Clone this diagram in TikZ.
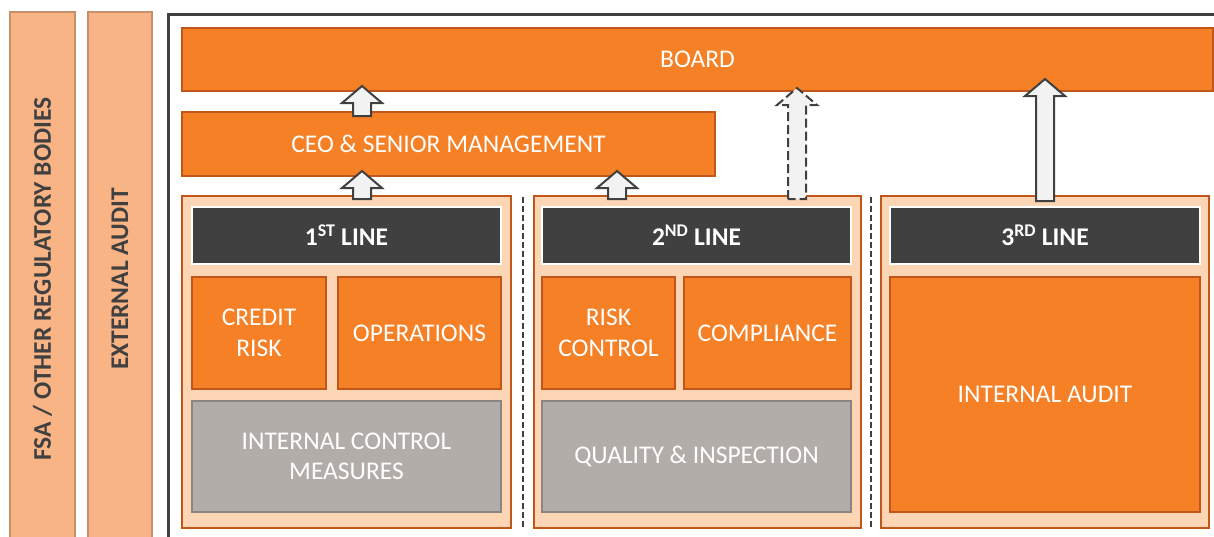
\documentclass[tikz,border=0pt]{standalone}
\usepackage{fontspec}
\setmainfont{Carlito}
\usepackage{tikz}
\usetikzlibrary{positioning,calc}
\definecolor{orangefill}{HTML}{F58025}
\definecolor{orangeline}{HTML}{C0561A}
\definecolor{peach}{HTML}{FCD5B4}
\definecolor{sidefill}{HTML}{F9B486}
\definecolor{sideline}{HTML}{C5906B}
\definecolor{darkbar}{HTML}{404040}
\definecolor{greyfill}{HTML}{B3ADA9}
\definecolor{greyline}{HTML}{8A8583}
\definecolor{arrowfill}{HTML}{F2F2F2}
\newcommand{\diagfont}{\fontsize{25.5}{30.5}\selectfont}
\tikzset{
obox/.style = {draw=orangeline, fill=orangefill, line width=2pt, rectangle, text=white, align=center, inner sep=0pt},
column/.style = {draw=orangeline, fill=peach, line width=2pt, rectangle, inner sep=0pt},
header/.style = {draw=white, fill=darkbar, line width=2pt, rectangle, text=white, font=\diagfont\bfseries, inner sep=0pt},
gbox/.style = {draw=greyline, fill=greyfill, line width=2pt, rectangle, text=white, align=center, inner sep=0pt},
sidebar/.style = {draw=sideline, fill=sidefill, line width=1.5pt, rectangle, rotate=90, text=darkbar, font=\diagfont\bfseries, inner sep=0pt},
frame/.style = {draw=darkbar, line width=3pt},
sepline/.style = {draw=darkbar, line width=2pt, dash pattern=on 6pt off 3pt},
blockarr/.style = {draw=darkbar, fill=arrowfill, line width=2pt, line join=miter}
}
\newcommand{\blockarrow}[3][]{%
  \draw[blockarr,#1] let \p1=#2, \p2=#3 in
    (\x1-9pt,\y1) -- (\x1-9pt,\y2-17pt) -- (\x1-20pt,\y2-17pt) -- (\x1,\y2)
    -- (\x1+20pt,\y2-17pt) -- (\x1+9pt,\y2-17pt) -- (\x1+9pt,\y1) -- cycle;}
\begin{document}
\begin{tikzpicture}[x=1pt, y=-1pt, font=\diagfont]
    \clip (0,0) rectangle (1214,536);
    \fill[white] (0,0) rectangle (1214,536);
    % regulators and auditors on the left
    \node [sidebar, minimum width=534pt, minimum height=65pt] (fsa) at (42.5,279) {FSA / OTHER REGULATORY BODIES};
    \node [sidebar, minimum width=534pt, minimum height=64pt] (ext) at (120,279) {EXTERNAL AUDIT};
    \draw [frame] (168.5,560) -- (168.5,14) -- (1240,14);

    % top of the organisation
    \node [obox, minimum width=1031pt, minimum height=63pt] (board) at (697.5,59.5) {BOARD};
    \node [obox, minimum width=533pt, minimum height=64pt] (ceo) at (448.5,144) {CEO \& SENIOR MANAGEMENT};

    % the three lines
    \node [column, minimum width=329pt, minimum height=332pt] (col1) at (346.5,362) {};
    \node [column, minimum width=327pt, minimum height=332pt] (col2) at (697.5,362) {};
    \node [column, minimum width=328pt, minimum height=332pt] (col3) at (1045,362) {};

    \node [header, minimum width=309pt, minimum height=57pt] (hd1) at (346.5,235.5) {1\textsuperscript{ST} LINE};
    \node [header, minimum width=309pt, minimum height=57pt] (hd2) at (696.5,235.5) {2\textsuperscript{ND} LINE};
    \node [header, minimum width=310pt, minimum height=57pt] (hd3) at (1045,235.5) {3\textsuperscript{RD} LINE};

    \node [obox, minimum width=134pt, minimum height=112pt] (credit) at (259,333) {CREDIT\\RISK};
    \node [obox, minimum width=163pt, minimum height=112pt] (ops) at (419.5,333) {OPERATIONS};
    \node [obox, minimum width=133pt, minimum height=112pt] (riskctl) at (608.5,333) {RISK\\CONTROL};
    \node [obox, minimum width=167pt, minimum height=112pt] (compl) at (767.5,333) {COMPLIANCE};
    \node [gbox, minimum width=309pt, minimum height=111pt] (icm) at (346.5,456.5) {INTERNAL CONTROL\\MEASURES};
    \node [gbox, minimum width=309pt, minimum height=111pt] (qual) at (696.5,456.5) {QUALITY \& INSPECTION};
    \node [obox, minimum width=310pt, minimum height=235pt] (ia) at (1045,394.5) {INTERNAL AUDIT};

    % dashed separators between the lines
    \draw [sepline] ($(col1.north east)!0.5!(col2.north west)+(0,2)$) -- ($(col1.south east)!0.5!(col2.south west)$);
    \draw [sepline] ($(col2.north east)!0.5!(col3.north west)+(0,2)$) -- ($(col2.south east)!0.5!(col3.south west)$);

    % reporting arrows
    \coordinate (a1) at (362,0);
    \coordinate (a2) at (617,0);
    \coordinate (a3) at (797,0);
    \coordinate (a4) at (1045,0);
    \blockarrow{($(ceo.north -| a1)+(0,5)$)}{($(board.south -| a1)+(0,-6)$)}
    \blockarrow{($(col1.north -| a1)+(0,4)$)}{($(ceo.south -| a1)+(0,-6)$)}
    \blockarrow{($(col2.north -| a2)+(0,4)$)}{($(ceo.south -| a2)+(0,-6)$)}
    \blockarrow[dash pattern=on 9pt off 4pt]{($(col2.north -| a3)+(0,4)$)}{($(board.south -| a3)+(0,-4)$)}
    \blockarrow{($(col3.north -| a4)+(0,6)$)}{($(board.south -| a4)+(0,-13)$)}
\end{tikzpicture}
\end{document}
